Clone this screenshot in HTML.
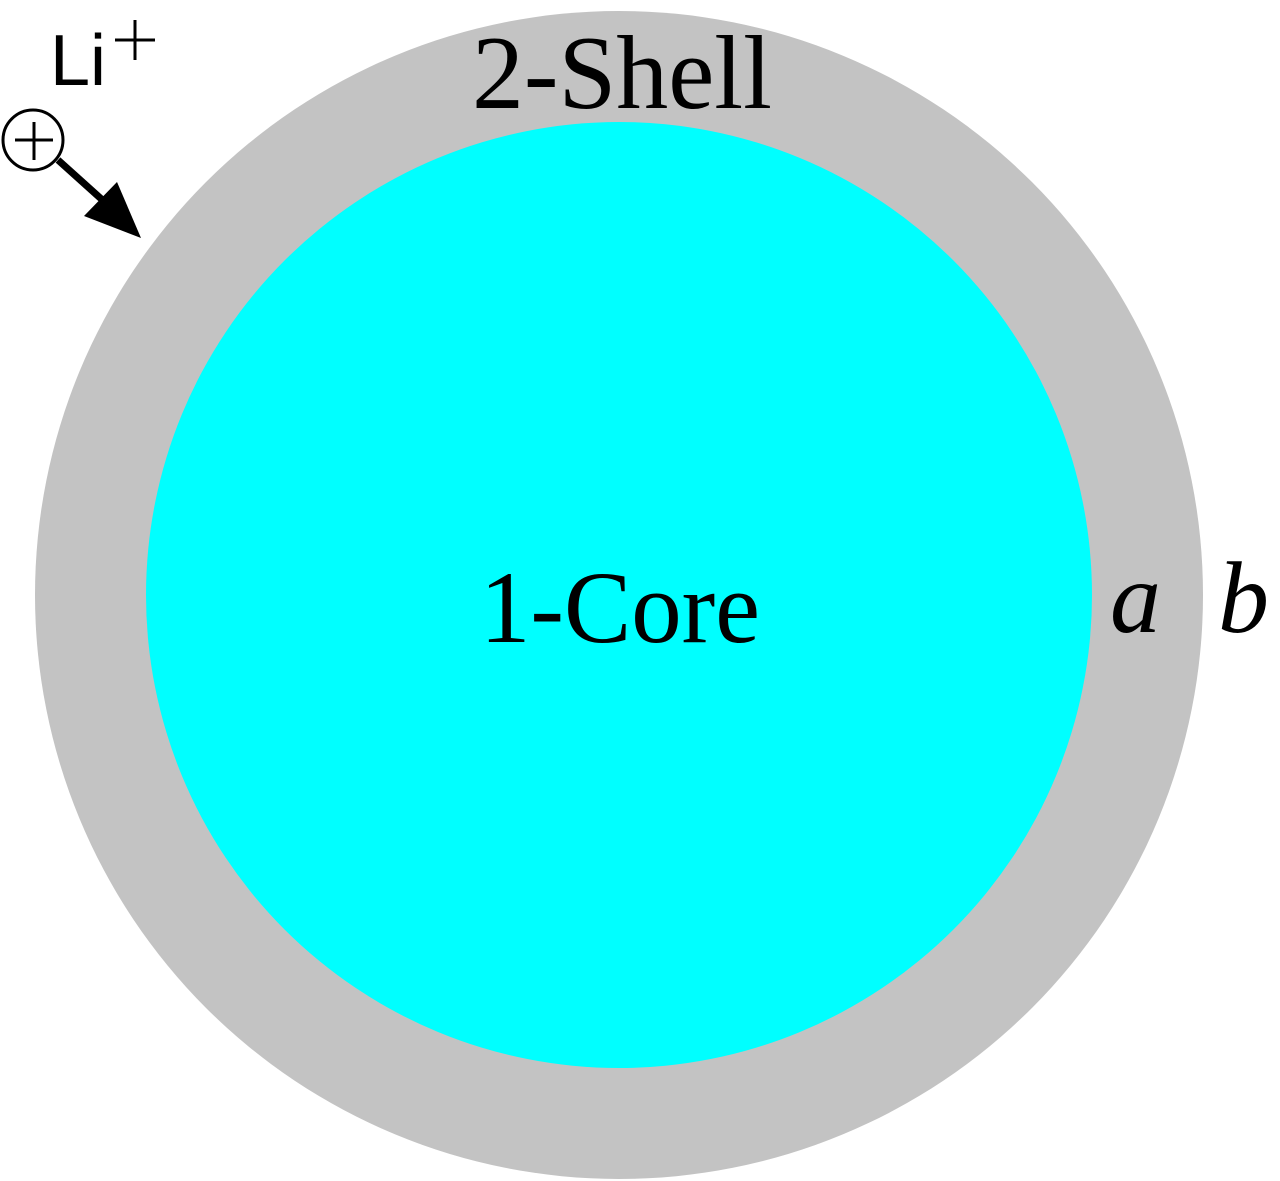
<!DOCTYPE html>
<html><head><meta charset="utf-8"><style>
html,body{margin:0;padding:0;background:#fff;}
svg{display:block;}
</style></head><body>
<svg width="1280" height="1181" viewBox="0 0 1280 1181" xmlns="http://www.w3.org/2000/svg">
<circle cx="619" cy="595" r="584" fill="#c3c3c3"/>
<circle cx="619" cy="595" r="473" fill="#00ffff"/>
<text x="472" y="108" font-family="Liberation Serif, serif" font-size="105" textLength="300" lengthAdjust="spacingAndGlyphs" fill="#000">2-Shell</text>
<text x="480" y="642" font-family="Liberation Serif, serif" font-size="103" textLength="280" lengthAdjust="spacingAndGlyphs" fill="#000">1-Core</text>
<text x="1110" y="632" font-family="Liberation Serif, serif" font-style="italic" font-size="102" fill="#000">a</text>
<text x="1218" y="632" font-family="Liberation Serif, serif" font-style="italic" font-size="102" fill="#000">b</text>
<text x="50" y="85" font-family="Liberation Sans, sans-serif" font-size="72" fill="#000">Li</text>
<line x1="115" y1="40" x2="155" y2="40" stroke="#000" stroke-width="3"/>
<line x1="135" y1="20" x2="135" y2="60" stroke="#000" stroke-width="3"/>
<circle cx="33" cy="140" r="30" fill="#fff" stroke="#000" stroke-width="3"/>
<line x1="15" y1="140" x2="53" y2="140" stroke="#000" stroke-width="3"/>
<line x1="34" y1="122" x2="34" y2="160" stroke="#000" stroke-width="3"/>
<line x1="58" y1="160" x2="108" y2="205" stroke="#000" stroke-width="7"/>
<polygon points="141,238 84,216 117,182" fill="#000"/>
</svg>
</body></html>
